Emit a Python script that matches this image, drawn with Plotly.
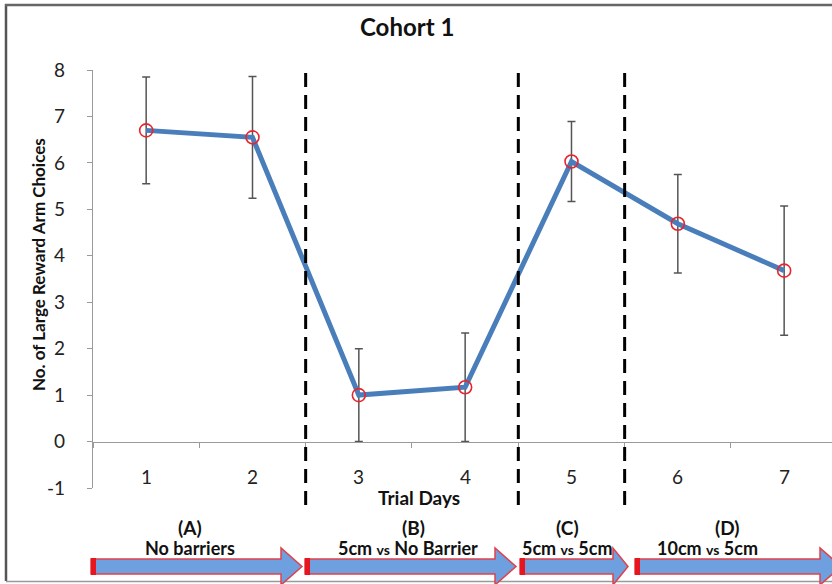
import plotly.graph_objects as go

# ---- data ----
days = [1, 2, 3, 4, 5, 6, 7]
day_labels = ["1", "2", "3", "4", "5", "6", "7"]
means = [6.70, 6.55, 1.00, 1.17, 6.03, 4.69, 3.68]
errors = [1.15, 1.31, 1.00, 1.17, 0.86, 1.06, 1.39]
phase_boundaries = [2.5, 4.5, 5.5]
y_ticks = [-1, 0, 1, 2, 3, 4, 5, 6, 7, 8]
y_tick_text = ["-1", "0", "1", "2", "3", "4", "5", "6", "7", "8"]
phase_letters = ["(A)", "(B)", "(C)", "(D)"]
phase_names = ["No barriers",
               "5cm <span style='font-size:14px'>vs</span> No Barrier",
               "5cm <span style='font-size:14px'>vs</span> 5cm",
               "10cm <span style='font-size:14px'>vs</span> 5cm"]

# ---- layout geometry (pixels) ----
W, H = 832, 584
L, R, T, B = 93, 0, 70, 96
YMIN, YMAX = -1, 8
XMIN, XMAX = 0.5, 7.45
pw, ph = W - L - R, H - T - B


def px(x):  # pixel x -> paper
    return (x - L) / pw


def py(y):  # pixel y -> paper
    return (H - B - y) / ph


FONT = "Lato, Open Sans, sans-serif"

fig = go.Figure()
fig.add_trace(go.Scatter(
    x=days, y=means, mode="lines+markers",
    line=dict(color="#4A7EBB", width=5),
    marker=dict(symbol="circle-open", size=13, color="#E8242C", line=dict(width=1.6)),
    error_y=dict(type="data", array=errors, visible=True, color="#555555",
                 thickness=1.5, width=4),
    showlegend=False, cliponaxis=False,
))

shapes = []
# dashed phase dividers
for xb in phase_boundaries:
    shapes.append(dict(type="line", xref="x", yref="paper", x0=xb, x1=xb,
                       y0=py(505), y1=py(66),
                       line=dict(color="black", width=3, dash="14px,8px")))

# outer frame
shapes.append(dict(type="line", xref="paper", yref="paper", x0=px(6), x1=px(6),
                   y0=py(581), y1=py(4), line=dict(color="#555555", width=2.5)))
shapes.append(dict(type="line", xref="paper", yref="paper", x0=px(5), x1=px(840),
                   y0=py(5), y1=py(5), line=dict(color="#666666", width=2.5)))
shapes.append(dict(type="line", xref="paper", yref="paper", x0=px(6), x1=px(840),
                   y0=py(581.5), y1=py(581.5), line=dict(color="#9a9a9a", width=1.5)))

# arrows: (start, head base, tip)
arrows = [(91, 281, 302), (305, 495, 516), (520, 613, 628), (635, 820, 841)]
body_top, body_bot, head_top, head_bot = 559, 574, 548, 585
for x0, xh, xt in arrows:
    pts = [(x0, body_top), (xh, body_top), (xh, head_top), (xt, (body_top + body_bot) / 2),
           (xh, head_bot), (xh, body_bot), (x0, body_bot)]
    path = "M " + " L ".join(f"{px(a):.5f},{py(b):.5f}" for a, b in pts) + " Z"
    shapes.append(dict(type="path", xref="paper", yref="paper", path=path,
                       fillcolor="#6E9FDE", line=dict(color="#E0414B", width=1.5)))
    shapes.append(dict(type="rect", xref="paper", yref="paper",
                       x0=px(x0), x1=px(x0 + 5), y0=py(body_bot + 1), y1=py(body_top - 1),
                       fillcolor="#E8141E", line=dict(width=0)))

annotations = []


def ann(**kw):
    kw.setdefault("showarrow", False)
    kw.setdefault("xanchor", "center")
    kw.setdefault("yanchor", "middle")
    annotations.append(kw)


# category labels inside plot
for d, lab in zip(days, day_labels):
    ann(x=d, y=-0.75, xref="x", yref="y", text=lab,
        font=dict(family=FONT, size=19, color="#222222"))
ann(x=3.57, y=py(497), xref="x", yref="paper", text="<b>Trial Days</b>",
    font=dict(family=FONT, size=19, color="#111111"))
ann(x=px(38), y=py(265), xref="paper", yref="paper",
    text="<b>No. of Large Reward Arm Choices</b>", textangle=-90,
    font=dict(family=FONT, size=17, color="#111111"))
ann(x=px(407), y=py(27), xref="paper", yref="paper", text="<b>Cohort 1</b>",
    font=dict(family=FONT, size=24, color="#111111"))
letter_x = [190, 413, 567, 727]
name_x = [190, 408, 567, 707]
for lx, nx, let, nm in zip(letter_x, name_x, phase_letters, phase_names):
    ann(x=px(lx), y=py(527), xref="paper", yref="paper", text=f"<b>{let}</b>",
        font=dict(family=FONT, size=19, color="#111111"))
    ann(x=px(nx), y=py(548), xref="paper", yref="paper", text=f"<b>{nm}</b>",
        font=dict(family=FONT, size=18, color="#111111"))

fig.update_layout(
    width=W, height=H,
    margin=dict(l=L, r=R, t=T, b=B),
    paper_bgcolor="white", plot_bgcolor="white",
    shapes=shapes, annotations=annotations,
    xaxis=dict(range=[XMIN, XMAX], anchor="free", position=(0 - YMIN) / (YMAX - YMIN),
               showgrid=False, zeroline=False, showline=True, linecolor="#9a9a9a", linewidth=1.2,
               ticks="outside", ticklen=5, tickcolor="#9a9a9a",
               tickvals=[d + 0.5 for d in days[:-1]] + [0.5], showticklabels=False),
    yaxis=dict(range=[YMIN, YMAX], tickvals=y_ticks, ticktext=y_tick_text,
               showgrid=False, zeroline=False,
               showline=True, linecolor="#9a9a9a", linewidth=1.2, ticks="outside", ticklen=5,
               tickcolor="#9a9a9a", ticklabelstandoff=18,
               tickfont=dict(family=FONT, size=19, color="#222222")),
)

fig.write_html("out.html")
